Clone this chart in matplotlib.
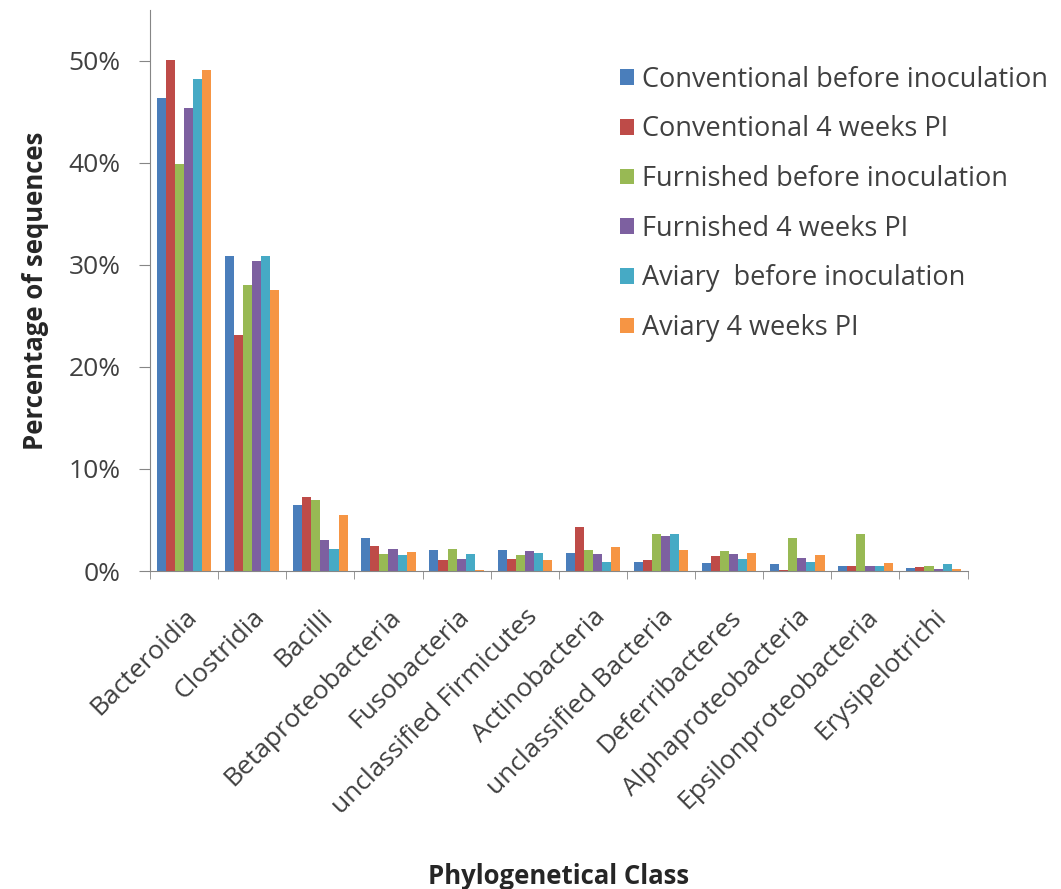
import numpy as np
import matplotlib
matplotlib.use("Agg")
import matplotlib.pyplot as plt
import matplotlib.transforms as mtransforms
from matplotlib.ticker import PercentFormatter, FixedLocator

plt.rcParams['font.family'] = ['Open Sans', 'DejaVu Sans']

classes = ['Bacteroidia', 'Clostridia', 'Bacilli', 'Betaproteobacteria',
           'Fusobacteria', 'unclassified Firmicutes', 'Actinobacteria',
           'unclassified Bacteria', 'Deferribacteres', 'Alphaproteobacteria',
           'Epsilonproteobacteria', 'Erysipelotrichi']

# percentage of sequences per class
conv_before = [46.4, 30.9, 6.5, 3.2, 2.1, 2.1, 1.8, 0.9, 0.75, 0.65, 0.5, 0.3]
conv_4w = [50.1, 23.1, 7.3, 2.5, 1.1, 1.2, 4.3, 1.1, 1.5, 0.1, 0.5, 0.4]
furn_before = [39.9, 28.0, 7.0, 1.7, 2.2, 1.6, 2.1, 3.6, 2.0, 3.2, 3.6, 0.5]
furn_4w = [45.4, 30.4, 3.0, 2.2, 1.2, 2.0, 1.7, 3.4, 1.7, 1.3, 0.5, 0.15]
aviary_before = [48.2, 30.9, 2.2, 1.6, 1.7, 1.8, 0.9, 3.6, 1.2, 0.9, 0.5, 0.65]
aviary_4w = [49.1, 27.5, 5.5, 1.9, 0.1, 1.1, 2.4, 2.1, 1.8, 1.6, 0.8, 0.15]

series = [conv_before, conv_4w, furn_before, furn_4w, aviary_before, aviary_4w]
labels = ['Conventional before inoculation', 'Conventional 4 weeks PI',
          'Furnished before inoculation', 'Furnished 4 weeks PI',
          'Aviary  before inoculation', 'Aviary 4 weeks PI']
colors = ['#4A7EBB', '#BE4B48', '#98B954', '#7D60A0', '#46AAC5', '#F69544']

fig = plt.figure(figsize=(10.61, 8.89), dpi=100)
ax = fig.add_axes([0.1414, 0.3577, 0.7706, 0.6311])

x = np.arange(len(classes))
width = 0.8 / len(series)
for i, (vals, lab, col) in enumerate(zip(series, labels, colors)):
    offs = (i - (len(series) - 1) / 2) * width
    ax.bar(x + offs, vals, width, color=col, label=lab, linewidth=0)

ax.set_xlim(-0.5, len(classes) - 0.5)
ax.set_ylim(0, 55)
ax.set_yticks(np.arange(0, 51, 10))
ax.yaxis.set_major_formatter(PercentFormatter(xmax=100, decimals=0))

ax.set_xticks(x)
ax.set_xticklabels(classes, rotation=45, ha='right', rotation_mode='anchor')
# nudge the slanted labels a bit to the right, like Excel does
shift = mtransforms.ScaledTranslation(5 / 72, 0, fig.dpi_scale_trans)
for lbl in ax.get_xticklabels():
    lbl.set_transform(lbl.get_transform() + shift)
ax.xaxis.set_minor_locator(FixedLocator(np.arange(-0.5, len(classes), 1)))
ax.tick_params(axis='x', which='major', length=0, pad=24)
ax.tick_params(axis='x', which='minor', length=6, color='#868686')
ax.tick_params(axis='y', length=8, color='#868686', pad=13)
ax.tick_params(labelsize=19, labelcolor='#404040')

for side in ['top', 'right']:
    ax.spines[side].set_visible(False)
for side in ['left', 'bottom']:
    ax.spines[side].set_color('#868686')

ax.set_ylabel('Percentage of sequences', fontsize=18.5, fontweight='bold',
              color='#262626', labelpad=14)
ax.set_xlabel('Phylogenetical Class', fontsize=18.5, fontweight='bold',
              color='#262626', labelpad=31)

leg = ax.legend(loc='upper left', bbox_to_anchor=(0.545, 0.944), frameon=False,
                fontsize=19.5, handlelength=0.5, handleheight=0.5,
                handletextpad=0.33, labelspacing=0.8)
for t in leg.get_texts():
    t.set_color('#404040')

fig.savefig('out.png', dpi=100)
